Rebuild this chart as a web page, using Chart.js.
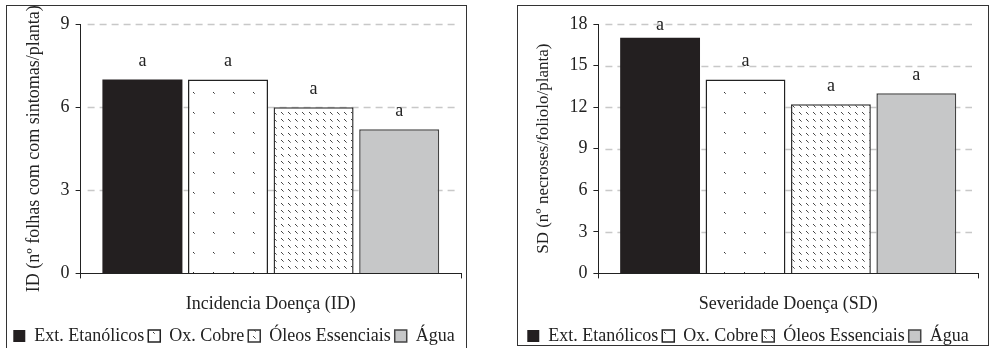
<!DOCTYPE html>
<html>
<head>
<meta charset="utf-8">
<script src="https://cdn.jsdelivr.net/npm/chart.js@4"></script>
<style>
  body { margin: 0; background: #fff; width: 992px; height: 348px; overflow: hidden; position: relative; }
  .panel { position: absolute; border: 1px solid #333; background: #fff; }
  #p1 { left: 6px; top: 5px; width: 459px; height: 342px; }
  #p2 { left: 517px; top: 5px; width: 470px; height: 339px; }
  canvas { display: block; }
</style>
</head>
<body>
<div class="panel" id="p1"><canvas id="c1" width="459" height="342"></canvas></div>
<div class="panel" id="p2"><canvas id="c2" width="470" height="339"></canvas></div>
<script>
// tratamentos (legenda)
const treatments = ['Ext. Etanólicos', 'Ox. Cobre', 'Óleos Essenciais', 'Água'];

// grafico 1 - incidencia
const incidenceCategory = ['Incidencia Doença (ID)'];
const incidenceValues = [7.0, 7.0, 6.0, 5.2];
const incidenceLetters = ['a', 'a', 'a', 'a'];
const incidenceMax = 9;

// grafico 2 - severidade
const severityCategory = ['Severidade Doença (SD)'];
const severityValues = [17.0, 14.0, 12.2, 13.0];
const severityLetters = ['a', 'a', 'a', 'a'];
const severityMax = 18;

const tickStep = 3;
const FONT = '"Liberation Serif", "Times New Roman", serif';

// padroes de preenchimento
function dotPattern() {
    const c = document.createElement('canvas');
    c.width = 20; c.height = 20;
    const x = c.getContext('2d');
    x.fillStyle = '#fff';
    x.fillRect(0, 0, 20, 20);
    x.fillStyle = '#333';
    x.fillRect(6, 6, 1, 1);
    x.fillStyle = '#777';
    x.fillRect(7, 7, 1, 1);
    return x.createPattern(c, 'repeat');
}

function hatchPattern() {
    const c = document.createElement('canvas');
    c.width = 7; c.height = 7;
    const x = c.getContext('2d');
    x.fillStyle = '#fff';
    x.fillRect(0, 0, 7, 7);
    x.fillStyle = '#444';
    x.fillRect(1, 1, 1, 1);
    x.fillRect(2, 2, 1, 1);
    x.fillStyle = '#888';
    x.fillRect(3, 3, 1, 1);
    return x.createPattern(c, 'repeat');
}

const fills = ['#231f20', dotPattern(), hatchPattern(), '#c6c7c8'];
const borders = ['#231f20', '#222', '#333', '#444'];

// linhas de grade tracejadas
const dashedGrid = {
    id: 'dashedGrid',
    beforeDatasetsDraw(chart) {
        const y = chart.scales.y;
        const area = chart.chartArea;
        const ctx = chart.ctx;
        ctx.save();
        ctx.strokeStyle = '#c8c8c8';
        ctx.lineWidth = 1.5;
        ctx.setLineDash([7, 5]);
        y.ticks.forEach(t => {
            if (t.value === 0) return;
            const py = Math.round(y.getPixelForValue(t.value)) + 0.5;
            ctx.beginPath();
            ctx.moveTo(area.left + 7, py);
            ctx.lineTo(area.right - 6, py);
            ctx.stroke();
        });
        ctx.restore();
    }
};

// letras acima das barras
const letterLabels = {
    id: 'letterLabels',
    afterDatasetsDraw(chart, args, opts) {
        const ctx = chart.ctx;
        ctx.save();
        ctx.font = '18px ' + FONT;
        ctx.fillStyle = '#222';
        ctx.textAlign = 'center';
        ctx.textBaseline = 'middle';
        chart.data.datasets.forEach((ds, i) => {
            const bar = chart.getDatasetMeta(i).data[0];
            let ty = bar.y - 18;
            if (ty < chart.chartArea.top + 1) ty = chart.chartArea.top + 1;
            ctx.fillText(opts.letters[i], bar.x, ty);
        });
        ctx.restore();
    }
};

function makeChart(id, category, values, letters, yMax, yTitle, cfg) {
    const ctx = document.getElementById(id).getContext('2d');
    return new Chart(ctx, {
        type: 'bar',
        data: {
            labels: category,
            datasets: treatments.map((name, i) => ({
                label: name,
                data: [values[i]],
                backgroundColor: fills[i],
                borderColor: borders[i],
                borderWidth: i === 0 ? 0 : 1.5,
                categoryPercentage: 0.9,
                barPercentage: 0.935
            }))
        },
        options: {
            responsive: false,
            animation: false,
            layout: { padding: { top: 18, right: cfg.padRight, left: 0, bottom: cfg.padBottom } },
            plugins: {
                tooltip: { enabled: false },
                letterLabels: { letters: letters },
                legend: {
                    position: 'bottom',
                    labels: {
                        boxWidth: 12,
                        boxHeight: 12,
                        padding: 4,
                        color: '#222',
                        font: { family: FONT, size: 18 }
                    }
                }
            },
            scales: {
                x: {
                    grid: { display: true, drawOnChartArea: false, offset: true, tickLength: 5, tickColor: '#222', tickWidth: 1 },
                    border: { color: '#222', width: 1 },
                    ticks: { display: false },
                    title: {
                        display: true,
                        text: category[0],
                        color: '#222',
                        padding: { top: 15, bottom: 8 },
                        font: { family: FONT, size: 18 }
                    }
                },
                y: {
                    min: 0,
                    max: yMax,
                    ticks: { stepSize: tickStep, color: '#222', padding: 6, font: { family: FONT, size: 18 } },
                    grid: { drawOnChartArea: false, tickLength: 5, tickColor: '#222', tickWidth: 1 },
                    border: { color: '#222', width: 1 },
                    title: {
                        display: true,
                        text: yTitle,
                        color: '#222',
                        padding: { top: cfg.titleLeft, bottom: 10 },
                        font: { family: FONT, size: cfg.titleSize }
                    }
                }
            }
        },
        plugins: [dashedGrid, letterLabels]
    });
}

makeChart('c1', incidenceCategory, incidenceValues, incidenceLetters, incidenceMax,
    'ID (nº folhas com com sintomas/planta)', { padRight: 5, padBottom: -7, titleLeft: 16, titleSize: 18 });
makeChart('c2', severityCategory, severityValues, severityLetters, severityMax,
    'SD (nº necroses/foliolo/planta)', { padRight: 10, padBottom: -10, titleLeft: 15, titleSize: 17 });
</script>
</body>
</html>
